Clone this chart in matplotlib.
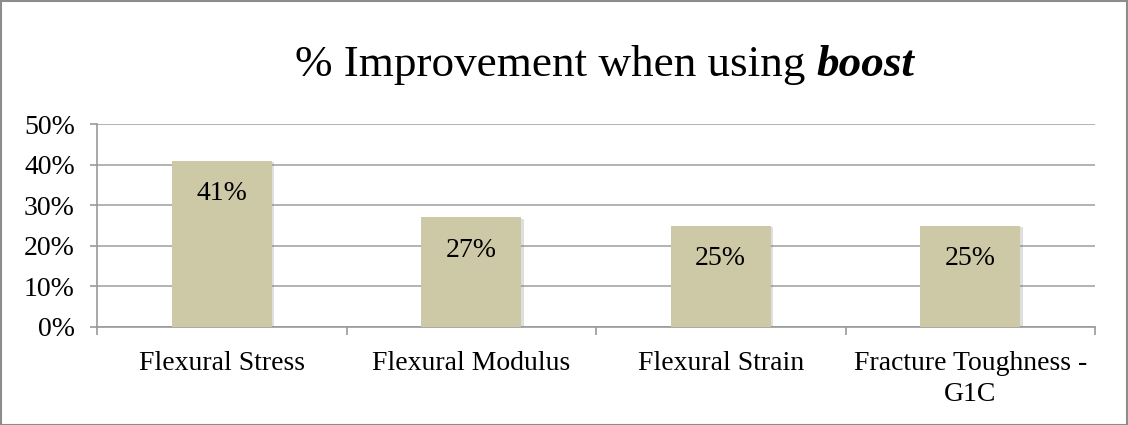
import matplotlib
matplotlib.use("Agg")
import matplotlib.pyplot as plt
import matplotlib.patheffects as pe
from matplotlib.patches import Rectangle
import numpy as np

categories = ["Flexural Stress", "Flexural Modulus", "Flexural Strain", "Fracture Toughness -\nG1C"]
values = [41, 27, 25, 25]
bar_labels = ["41%", "27%", "25%", "25%"]
yticks = [0, 10, 20, 30, 40, 50]
ytick_labels = ["0%", "10%", "20%", "30%", "40%", "50%"]

FONT = ["Liberation Serif", "DejaVu Serif"]
plt.rcParams['font.family'] = FONT

W, H = 1128, 425
fig = plt.figure(figsize=(W / 100, H / 100), dpi=100)
ax = fig.add_axes([97 / W, 1 - 327 / H, (1095 - 97) / W, (327 - 124) / H])

x = np.arange(len(categories))
bars = ax.bar(x, values, width=0.4, color="#CDC8A6", zorder=3)
for b in bars:
    b.set_path_effects([pe.SimplePatchShadow(offset=(2, -1), shadow_rgbFace="#808080", alpha=0.25), pe.Normal()])

for xi, v, lab in zip(x, values, bar_labels):
    ax.annotate(lab, (xi, v), xytext=(0, -33), textcoords="offset pixels",
                ha="center", va="center", fontsize=20, color="#000000", zorder=4)

ax.set_xlim(-0.5, len(categories) - 0.5)
ax.set_ylim(0, 50)
ax.set_yticks(yticks)
ax.set_yticklabels(ytick_labels, fontsize=20)
ax.set_xticks(np.arange(-0.5, len(categories), 1.0))
ax.set_xticklabels([])
ax.set_xticks(x, minor=True)
ax.set_xticklabels(categories, minor=True, fontsize=20, linespacing=1.35)
ax.tick_params(axis="x", which="minor", length=0, pad=17)
ax.tick_params(axis="x", which="major", length=5.5, color="#9A9A9A", width=1.2)
ax.tick_params(axis="y", length=5, color="#9A9A9A", width=1.2, pad=11)

ax.grid(axis="y", color="#A6A6A6", linewidth=1.2, zorder=0)
for s in ["top", "right"]:
    ax.spines[s].set_visible(False)
for s in ["left", "bottom"]:
    ax.spines[s].set_color("#9A9A9A")
    ax.spines[s].set_linewidth(1.2)

# Title with bold-italic "boost"
t1 = fig.text(0.0, 1 - 65 / H, "% Improvement when using ", fontsize=32.5, va="center", ha="left")
t2 = fig.text(0.0, 1 - 65 / H, "boost", fontsize=32.5, va="center", ha="left", fontweight="bold", fontstyle="italic")
fig.canvas.draw()
r = fig.canvas.get_renderer()
w1 = t1.get_window_extent(r).width
w2 = t2.get_window_extent(r).width
total = w1 + w2
cx = 605
start = cx - total / 2
t1.set_x(start / W)
t2.set_x((start + w1) / W)

fig.patches.append(Rectangle((0.5 / W, 0.5 / H), (W - 1.5) / W, (H - 1.5) / H, transform=fig.transFigure,
                             fill=False, edgecolor="#8C8C8C", linewidth=1.5))

fig.savefig("out.png", dpi=100)
